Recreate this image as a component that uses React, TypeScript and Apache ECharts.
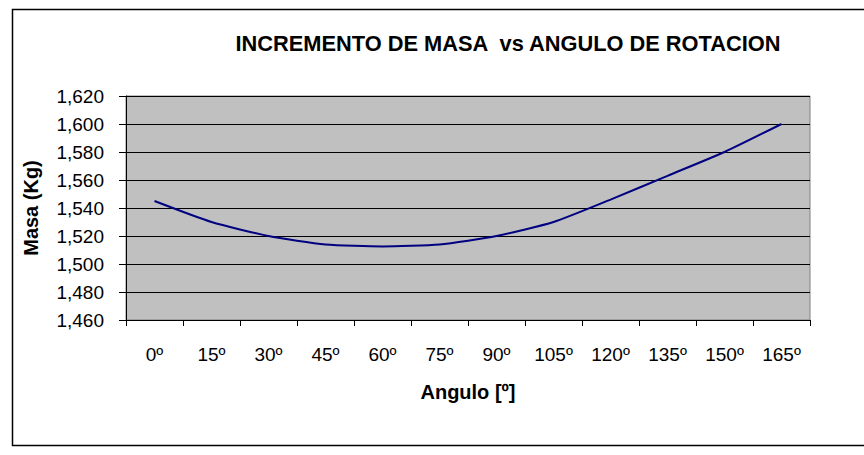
import React, { useEffect, useRef } from "react";
import * as echarts from "echarts";

const categories = ["0º", "15º", "30º", "45º", "60º", "75º", "90º", "105º", "120º", "135º", "150º", "165º"];
const masa = [1545, 1530, 1520, 1514, 1512.5, 1514, 1520, 1530, 1546, 1563, 1580, 1600];
const chartTitle = "INCREMENTO DE MASA  vs ANGULO DE ROTACION";
const xName = "Angulo [º]";
const yName = "Masa (Kg)";
const yMin = 1460;
const yMax = 1620;
const yStep = 20;

export default function App() {
  const ref = useRef<HTMLDivElement>(null);
  useEffect(() => {
    if (!ref.current) return;
    const chart = echarts.init(ref.current, null, { renderer: "svg" });
    const font = "'Liberation Sans', Arial, sans-serif";
    chart.setOption({
      animation: false,
      backgroundColor: "#ffffff",
      title: {
        text: chartTitle,
        left: 503,
        textAlign: "center",
        top: 27,
        textStyle: { fontFamily: font, fontSize: 21.8, fontWeight: "bold", color: "#000" },
      },
      graphic: [
        {
          type: "rect",
          shape: { x: 12.5, y: 9.5, width: 900, height: 436 },
          style: { fill: "none", stroke: "#000", lineWidth: 1.5 },
          silent: true,
        },
      ],
      grid: {
        left: 126,
        top: 96,
        right: 54,
        bottom: 135,
        show: true,
        backgroundColor: "#c0c0c0",
        borderColor: "#808080",
        borderWidth: 1,
      },
      xAxis: {
        type: "category",
        data: categories,
        boundaryGap: true,
        name: xName,
        nameLocation: "middle",
        nameGap: 62,
        nameTextStyle: { fontFamily: font, fontSize: 20, fontWeight: "bold", color: "#000" },
        axisLine: { show: true, lineStyle: { color: "#000", width: 1 } },
        axisTick: { show: true, inside: false, length: 6, alignWithLabel: false, lineStyle: { color: "#000" } },
        axisLabel: { fontFamily: font, fontSize: 19, color: "#000", margin: 25, interval: 0 },
        splitLine: { show: false },
      },
      yAxis: {
        type: "value",
        min: yMin,
        max: yMax,
        interval: yStep,
        name: yName,
        nameLocation: "middle",
        nameGap: 85,
        nameRotate: 90,
        nameTextStyle: { fontFamily: font, fontSize: 20, fontWeight: "bold", color: "#000" },
        axisLine: { show: true, lineStyle: { color: "#000", width: 1 } },
        axisTick: { show: true, inside: false, length: 7, lineStyle: { color: "#000" } },
        axisLabel: {
          fontFamily: font,
          fontSize: 19,
          color: "#000",
          margin: 22,
          formatter: (v: number) => v.toLocaleString("en-US"),
        },
        splitLine: { show: true, lineStyle: { color: "#000", width: 1 } },
      },
      series: [
        {
          type: "line",
          data: masa,
          smooth: 0.2,
          showSymbol: false,
          symbol: "none",
          lineStyle: { color: "#000080", width: 2 },
        },
      ],
    });
    return () => chart.dispose();
  }, []);
  return (
    <div
      ref={ref}
      style={{ position: "fixed", left: 0, top: 0, width: 864, height: 455 }}
    />
  );
}
